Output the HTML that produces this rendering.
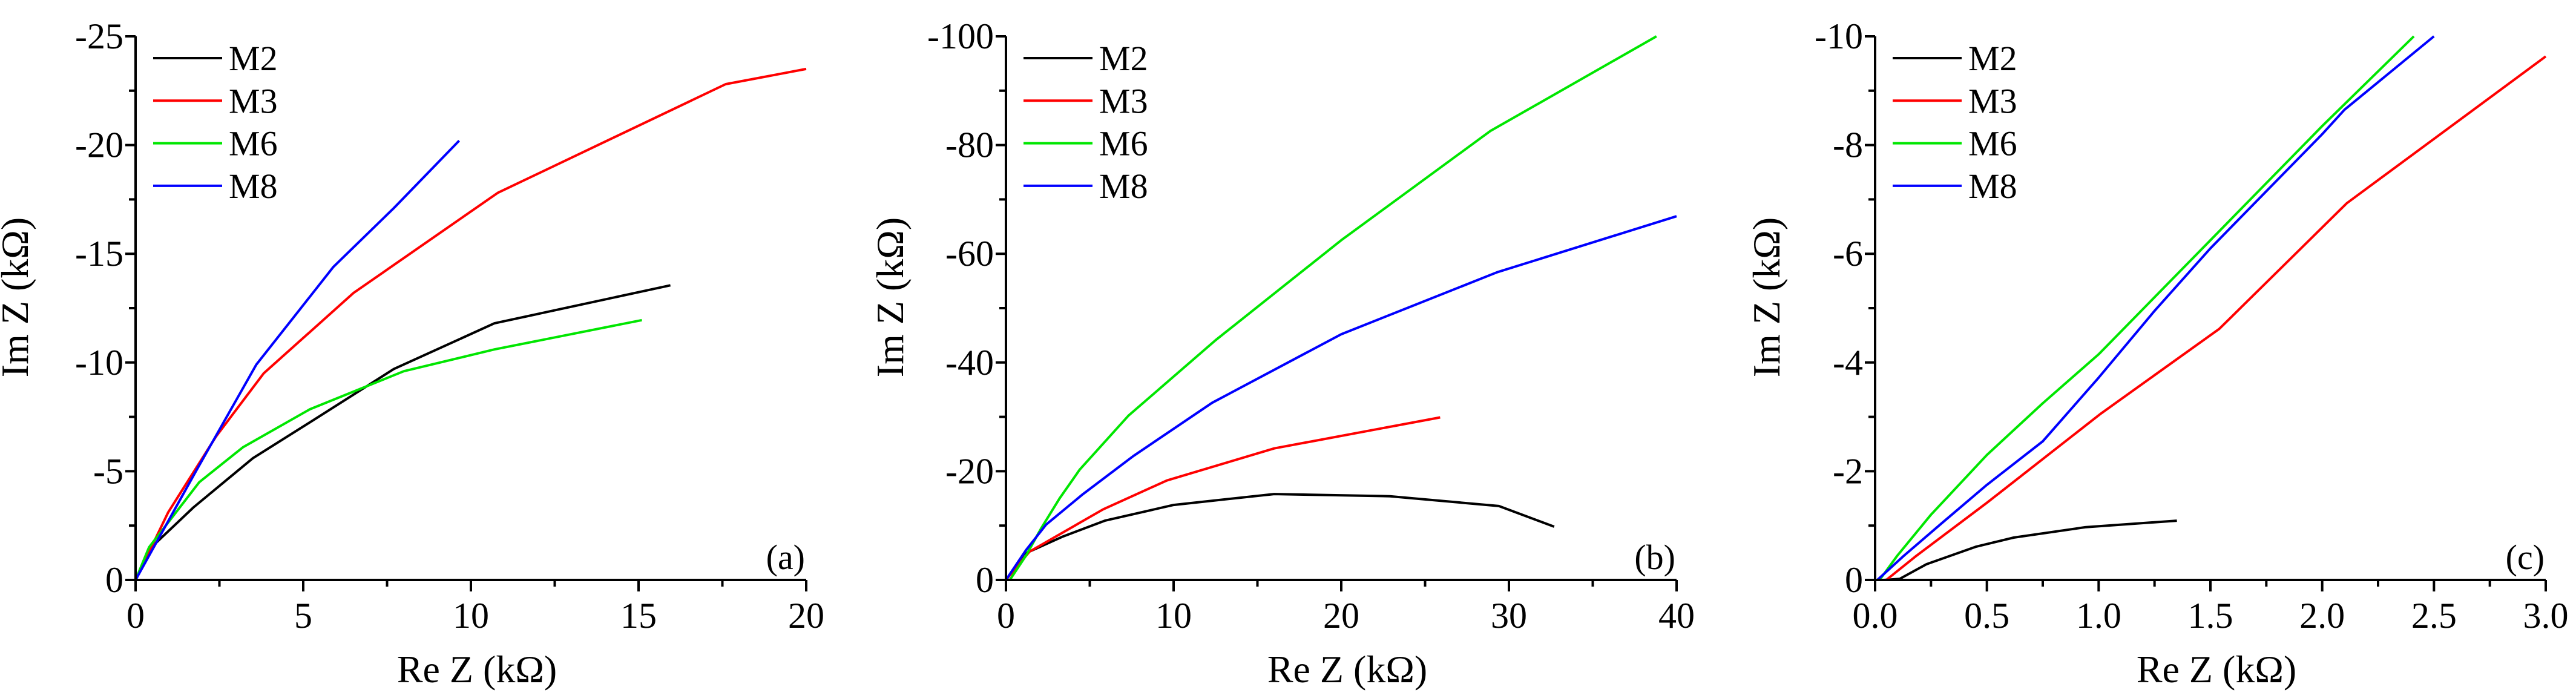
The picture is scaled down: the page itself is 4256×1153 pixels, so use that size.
<!DOCTYPE html>
<html><head><meta charset="utf-8"><style>
html,body{margin:0;padding:0;background:#fff}
svg{display:block}
text{font-family:"Liberation Serif","DejaVu Serif","Noto Serif CJK SC",serif;fill:#000}
</style></head><body>
<svg id="fig" width="4256" height="1153" viewBox="0 0 4256 1153" xmlns="http://www.w3.org/2000/svg"></svg>
<script>
// Panel (a)
const aM2x=[0,0.47,1.73,3.5,5.25,7.7,10.7,15.95];
const aM2y=[0,1.5,3.34,5.6,7.3,9.7,11.8,13.55];
const aM3x=[0,0.97,2.4,3.82,6.5,10.8,17.6,20];
const aM3y=[0,3.1,6.6,9.5,13.2,17.8,22.8,23.5];
const aM6x=[0,0.4,1.9,3.2,5.2,8,10.7,15.1];
const aM6y=[0,1.5,4.5,6.1,7.85,9.6,10.6,11.95];
const aM8x=[0,1.8,3.6,5.9,7.7,9.65];
const aM8y=[0,5,9.9,14.4,17.1,20.2];
const aXTicks=["0","5","10","15","20"];
const aYTicks=["0","-5","-10","-15","-20","-25"];
// Panel (b)
const bM2x=[0,1.07,3.4,5.9,10,16,22.9,29.4,32.7];
const bM2y=[0,4.75,8,10.9,13.8,15.8,15.4,13.6,9.8];
const bM3x=[0,1.4,5.8,9.6,16,25.9];
const bM3y=[0,5.2,13,18.3,24.2,29.9];
const bM6x=[0.23,1.2,2.1,3.2,4.4,7.3,12.5,20,28.9,38.8];
const bM6y=[0,4.5,9.5,15,20.3,30.2,44.1,62.5,82.6,100];
const bM8x=[0,1.2,2.4,4.6,7.6,12.3,20,29.3,40];
const bM8y=[0,5.5,10.2,15.8,22.8,32.6,45.2,56.6,66.9];
const bXTicks=["0","10","20","30","40"];
const bYTicks=["0","-20","-40","-60","-80","-100"];
// Panel (c)
const cM2x=[0.04,0.11,0.23,0.45,0.62,0.94,1.35];
const cM2y=[0,0.02,0.29,0.61,0.78,0.97,1.09];
const cM3x=[0.05,0.18,0.5,1.01,1.54,2.11,3.0];
const cM3y=[0,0.43,1.42,3.06,4.62,6.93,9.63];
const cM6x=[0.02,0.1,0.25,0.5,0.75,1.0,1.5,2.0,2.41];
const cM6y=[0,0.45,1.2,2.3,3.25,4.15,6.25,8.35,10];
const cM8x=[0.01,0.13,0.3,0.5,0.75,1.0,1.25,1.5,2.0,2.1,2.5];
const cM8y=[0,0.45,1.05,1.75,2.55,3.72,4.95,6.1,8.2,8.65,10];
const cXTicks=["0.0","0.5","1.0","1.5","2.0","2.5","3.0"];
const cYTicks=["0","-2","-4","-6","-8","-10"];

const NS="http://www.w3.org/2000/svg";
const FF='Liberation Serif, DejaVu Serif, serif';
const svg=document.getElementById('fig');
function mk(tag,attrs,parent){const e=document.createElementNS(NS,tag);for(const k in attrs)e.setAttribute(k,attrs[k]);if(tag==='text')e.style.fontFamily='"Liberation Serif","DejaVu Serif",serif';(parent||svg).appendChild(e);return e;}

function panel(id,x0,xMax,yMax,xT,yT,series,tag,titleX){
  const g=mk('g',{});
  
  
  const L=x0,R=x0+1108,T=60,B=958;
  const sx=v=>L+(v/xMax)*(R-L), sy=v=>B-(v/yMax)*(B-T);
  series.forEach(s=>{
    const p=s.x.map((v,i)=>sx(v).toFixed(1)+','+sy(s.y[i]).toFixed(1)).join(' ');
    const pl=mk('polyline',{points:p,fill:'none',stroke:s.c,'stroke-width':4,'stroke-linejoin':'round'},g);
    
    
  });
  const ax=mk('path',{d:`M${L},${T} L${L},${B} L${R},${B}`,fill:'none',stroke:'#000','stroke-width':4},g);
  
  
  const nx=xT.length-1, ny=yT.length-1;
  for(let i=0;i<=nx*2;i++){
    const x=L+(R-L)*i/(nx*2), len=i%2?11:19;
    mk('line',{x1:x,y1:B,x2:x,y2:B+len,stroke:'#000','stroke-width':4},g);
  }
  for(let i=0;i<=ny*2;i++){
    const y=B-(B-T)*i/(ny*2), len=i%2?11:17;
    mk('line',{x1:L,y1:y,x2:L-len,y2:y,stroke:'#000','stroke-width':4},g);
  }
  xT.forEach((t,i)=>{
    const e=mk('text',{x:L+(R-L)*i/nx,y:1037,'text-anchor':'middle','font-size':60},g);e.textContent=t;
    
    
  });
  yT.forEach((t,i)=>{
    const e=mk('text',{x:L-20,y:B-(B-T)*i/ny+20,'text-anchor':'end','font-size':60},g);e.textContent=t;
    
    
  });
  const xt=mk('text',{x:(L+R)/2+10,y:1127,'text-anchor':'middle','font-size':64},g);xt.textContent='Re Z (kΩ)';
  
  
  const yt=mk('text',{x:0,y:0,'text-anchor':'middle','font-size':64,transform:`translate(${titleX+22},491) rotate(-90)`},g);yt.textContent='Im Z (kΩ)';
  
  
  const pt=mk('text',{x:R-2,y:940,'text-anchor':'end','font-size':58},g);pt.textContent=tag;
  
  
  series.forEach((s,i)=>{
    const y=96+i*70.3;
    const ll=mk('line',{x1:L+29,y1:y,x2:L+143,y2:y,stroke:s.c,'stroke-width':4},g);
    
    
    const lt=mk('text',{x:L+154,y:y+20,'font-size':58},g);lt.textContent=s.n;
    
    
  });
}
const C={M2:'#000',M3:'#ff0000',M6:'#00e600',M8:'#0000ff'};
panel('a',224,20,25,aXTicks,aYTicks,[
 {n:'M2',c:C.M2,x:aM2x,y:aM2y},{n:'M3',c:C.M3,x:aM3x,y:aM3y},
 {n:'M6',c:C.M6,x:aM6x,y:aM6y},{n:'M8',c:C.M8,x:aM8x,y:aM8y}],'(a)',24);
panel('b',1662,40,100,bXTicks,bYTicks,[
 {n:'M2',c:C.M2,x:bM2x,y:bM2y},{n:'M3',c:C.M3,x:bM3x,y:bM3y},
 {n:'M6',c:C.M6,x:bM6x,y:bM6y},{n:'M8',c:C.M8,x:bM8x,y:bM8y}],'(b)',1470);
panel('c',3098,3,10,cXTicks,cYTicks,[
 {n:'M2',c:C.M2,x:cM2x,y:cM2y},{n:'M3',c:C.M3,x:cM3x,y:cM3y},
 {n:'M6',c:C.M6,x:cM6x,y:cM6y},{n:'M8',c:C.M8,x:cM8x,y:cM8y}],'(c)',2918);
</script>
</body></html>
